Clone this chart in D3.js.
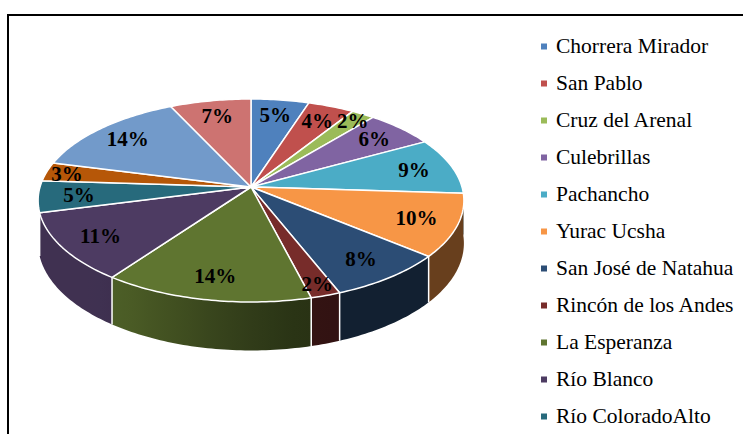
<!DOCTYPE html>
<html>
<head>
<meta charset="utf-8">
<script src="https://cdn.jsdelivr.net/npm/d3@7"></script>
<style>
  body { margin: 0; background: #fff; }
  svg { display: block; }
</style>
</head>
<body>
<svg id="chart" width="743" height="434"></svg>
<script>
// slices, clockwise from 12 o'clock
var categories = ["Chorrera Mirador", "San Pablo", "Cruz del Arenal", "Culebrillas", "Pachancho",
  "Yurac Ucsha", "San José de Natahua", "Rincón de los Andes", "La Esperanza", "Río Blanco",
  "Río ColoradoAlto", "Serie 12", "Serie 13", "Serie 14"];
var values = [5, 4, 2, 6, 9, 10, 8, 2, 14, 11, 5, 3, 14, 7];
var colors = ["#4F81BD", "#C0504D", "#9BBB59", "#8064A2", "#4BACC6", "#F79646", "#2C4D75",
  "#772C2A", "#5F7530", "#4D3B62", "#276A7C", "#B65708", "#729ACA", "#CD7371"];

var svg = d3.select("#chart");
var defs = svg.append("defs");
var FONT = "'Liberation Serif'";

// frame (runs off the right and bottom)
svg.append("rect")
  .attr("x", 8).attr("y", 15)
  .attr("width", 800).attr("height", 500)
  .attr("fill", "none").attr("stroke", "#000").attr("stroke-width", 2);

// perspective ellipse
var cx = 251, cy = 187, rx = 211, ry = 99.7, k = 0.133, depth = 42;
function proj(theta, r, drop) {
  var u = r * Math.sin(theta), v = -r * Math.cos(theta);
  var s = 1 / (1 - k * v);
  return [cx + rx * u * s, cy + ry * v * s + (drop || 0) * s];
}
var rad = function(deg) { return deg * Math.PI / 180; };

var fillScale = d3.scaleOrdinal().domain(categories).range(colors);
var pie = d3.pie().sort(null).value(function(d, i) { return values[i]; });
var arcs = pie(categories);
var total = d3.sum(values);

// side shading, lighter towards the left
function shade(theta) {
  var deg = theta * 180 / Math.PI;
  var t = Math.max(0, Math.min(1, (deg - 160) / 65));
  t = t * t * (3 - 2 * t);
  return 0.42 + 0.41 * t;
}

var step = Math.PI / 180;
var wallLo = rad(92), wallHi = rad(256.5);
var xL = proj(3 * Math.PI / 2, 1)[0] - 5, xR = proj(Math.PI / 2, 1)[0] + 5;
var gradAngles = d3.range(100, 261, 5).map(rad);

// side walls, one path per slice with a horizontal gradient
var sides = svg.append("g");
arcs.forEach(function(a, i) {
  var lo = Math.max(a.startAngle, wallLo), hi = Math.min(a.endAngle, wallHi);
  if (hi <= lo) return;
  var g = defs.append("linearGradient").attr("id", "side" + i)
    .attr("gradientUnits", "userSpaceOnUse")
    .attr("x1", xL).attr("x2", xR).attr("y1", 0).attr("y2", 0);
  gradAngles.slice().reverse().forEach(function(t) {
    g.append("stop")
      .attr("offset", (proj(t, 1)[0] - xL) / (xR - xL))
      .attr("stop-color", d3.interpolateRgb("#000", fillScale(a.data))(shade(t)));
  });
  var n = Math.max(2, Math.ceil((hi - lo) / step));
  var topPts = [], botPts = [];
  for (var j = 0; j <= n; j++) {
    var t = lo + (hi - lo) * j / n;
    topPts.push(proj(t, 1));
    botPts.unshift(proj(t, 1, depth));
  }
  sides.append("path")
    .attr("d", d3.line()(topPts.concat(botPts)) + "Z")
    .attr("fill", "url(#side" + i + ")");
});

// white edges where slices meet on the wall
var edgeAngles = arcs.map(function(a) { return a.startAngle; })
  .filter(function(t) { return t > rad(97) && t < wallHi; });
sides.selectAll("line").data(edgeAngles).enter().append("line")
  .attr("x1", function(t) { return proj(t, 1)[0]; })
  .attr("y1", function(t) { return proj(t, 1)[1]; })
  .attr("x2", function(t) { return proj(t, 1, depth)[0]; })
  .attr("y2", function(t) { return proj(t, 1, depth)[1]; })
  .attr("stroke", "#fff").attr("stroke-width", 1.5);

// top faces
function topPath(a) {
  var pts = [[cx, cy]];
  var n = Math.max(2, Math.ceil((a.endAngle - a.startAngle) / step));
  for (var j = 0; j <= n; j++) pts.push(proj(a.startAngle + (a.endAngle - a.startAngle) * j / n, 1));
  return d3.line()(pts) + "Z";
}
svg.append("g").selectAll("path").data(arcs).enter().append("path")
  .attr("d", topPath)
  .attr("fill", function(a) { return fillScale(a.data); })
  .attr("stroke", "#fff").attr("stroke-width", 1.5).attr("stroke-linejoin", "round");

// percentage labels
svg.append("g").selectAll("text").data(arcs).enter().append("text")
  .each(function(a) {
    var pct = Math.round(a.value / total * 100);
    var r = pct <= 3 ? 0.9 : 0.81;
    var p = proj((a.startAngle + a.endAngle) / 2, r);
    d3.select(this).attr("x", p[0]).attr("y", p[1]).text(pct + "%");
  })
  .attr("dy", "0.35em")
  .attr("text-anchor", "middle")
  .style("font-family", FONT)
  .style("font-weight", "bold")
  .style("font-size", "21px")
  .style("fill", "#000");

// legend (entries below the window are cut off, as in the original)
var yLegend = d3.scaleLinear().domain([0, 1]).range([52.5, 89.5]);
var shown = categories.filter(function(d, i) { return yLegend(i) < 434; });
var legend = svg.append("g").selectAll("g").data(shown).enter().append("g")
  .attr("transform", function(d, i) { return "translate(0," + yLegend(i) + ")"; });
legend.append("rect")
  .attr("x", 541).attr("y", -9).attr("width", 6).attr("height", 6)
  .attr("fill", function(d) { return fillScale(d); });
legend.append("text")
  .attr("x", 556).attr("y", 0)
  .style("font-family", FONT)
  .style("font-size", "21.5px")
  .style("fill", "#000")
  .text(function(d) { return d; });
</script>
</body>
</html>
